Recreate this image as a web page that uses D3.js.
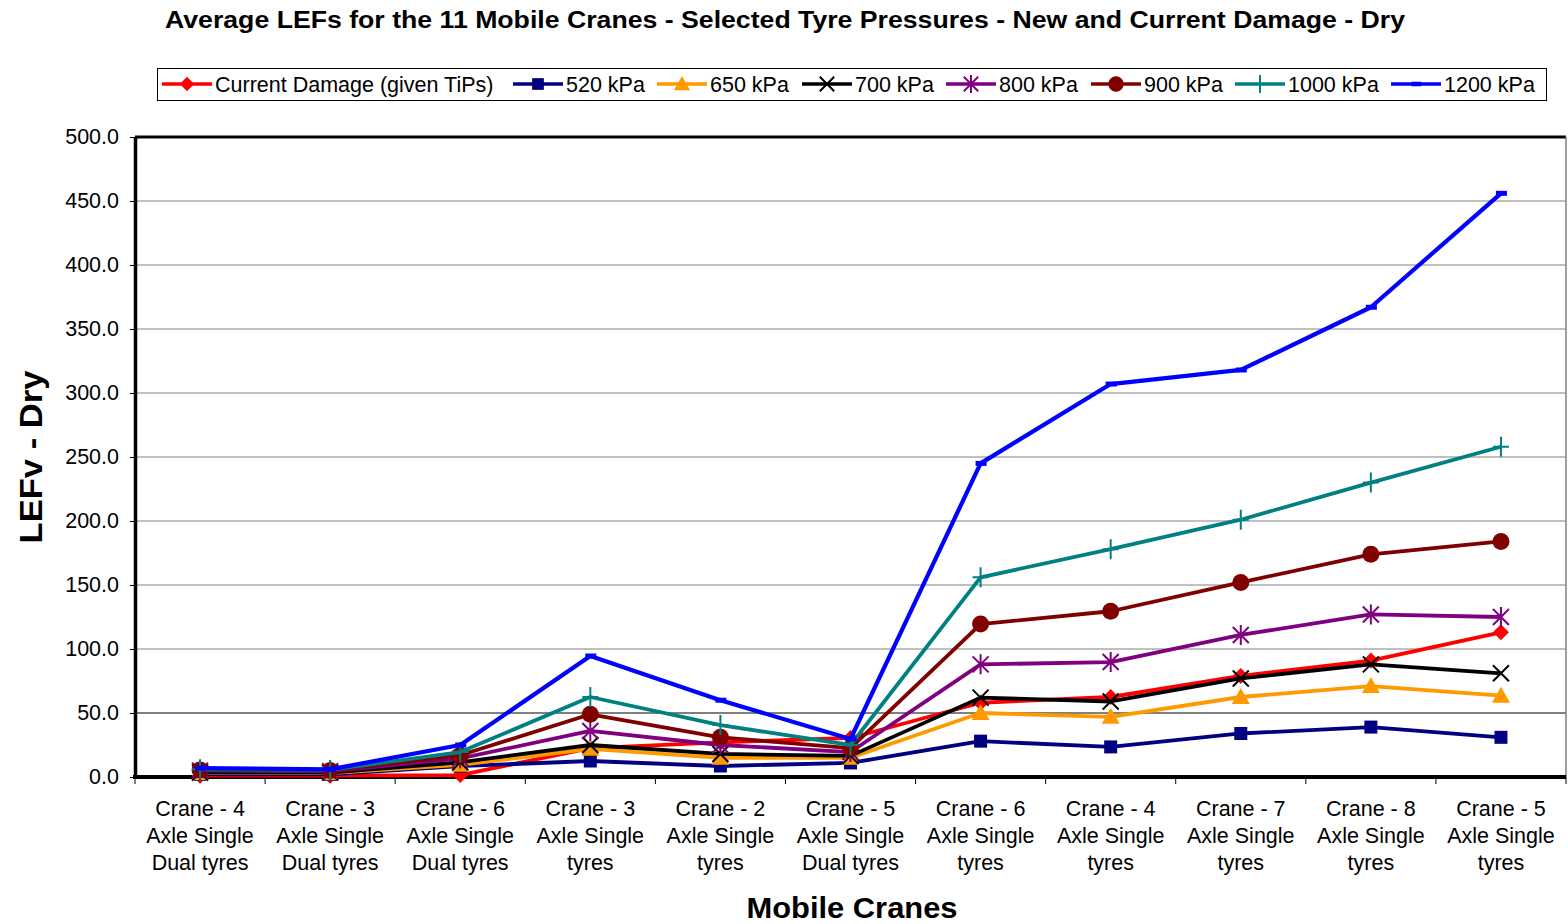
<!DOCTYPE html>
<html><head><meta charset="utf-8">
<script src="https://cdn.jsdelivr.net/npm/d3@7"></script>
<style>body{margin:0;background:#fff;font-family:"Liberation Sans",Arial,sans-serif;}</style>
</head><body><svg id="c" width="1568" height="924"></svg>
<script>
const categories = [
 ["Crane - 4","Axle Single","Dual tyres"],
 ["Crane - 3","Axle Single","Dual tyres"],
 ["Crane - 6","Axle Single","Dual tyres"],
 ["Crane - 3","Axle Single","tyres"],
 ["Crane - 2","Axle Single","tyres"],
 ["Crane - 5","Axle Single","Dual tyres"],
 ["Crane - 6","Axle Single","tyres"],
 ["Crane - 4","Axle Single","tyres"],
 ["Crane - 7","Axle Single","tyres"],
 ["Crane - 8","Axle Single","tyres"],
 ["Crane - 5","Axle Single","tyres"]
];
const seriesNames = ["Current Damage (given TiPs)","520 kPa","650 kPa","700 kPa","800 kPa","900 kPa","1000 kPa","1200 kPa"];
const currentDamage = [1.0,1.0,1.5,22.5,27,30.5,58,62.5,79,91,113];
const kPa520  = [2.0,2.0,8.5,12.5,8.6,11,28,23.5,34,39,31];
const kPa650  = [3.0,3.0,9.5,22,15,15,50,47,62.5,71,63.5];
const kPa700  = [3.5,3.5,11.5,25,18,16.5,62,59,77,88,81];
const kPa800  = [5.0,4.5,14.5,36,25,19.5,88,89.8,111,127,125];
const kPa900  = [5.5,5.0,17,49,31,22.5,119.5,129.5,152,174,184];
const kPa1000 = [6.0,5.5,19.5,62.5,40.6,25,156,178,201,230,258];
const kPa1200 = [7.0,6.0,25,94.5,60,29.7,245,307,318,367,456];
const yTicks = [0,50,100,150,200,250,300,350,400,450,500];
const colors = ["#ff0000","#000080","#ff9900","#000000","#800080","#800000","#008080","#0000ff"];
const markers = ["diamond","square","triangle","x","star","circle","plus","dash"];
const seriesData = [currentDamage,kPa520,kPa650,kPa700,kPa800,kPa900,kPa1000,kPa1200];

const svg = d3.select("#c");
const L=135, R=1566, T=137, B=777;
const x = d3.scaleBand().domain(d3.range(categories.length)).range([L,R]);
const y = d3.scaleLinear().domain([0,500]).range([B,T]);

// title
svg.append("text").attr("x",785).attr("y",28).attr("text-anchor","middle")
 .attr("font-weight","bold").attr("font-size","23px")
 .attr("textLength",1240).attr("lengthAdjust","spacingAndGlyphs")
 .text("Average LEFs for the 11 Mobile Cranes - Selected Tyre Pressures - New and Current Damage - Dry");

// gridlines
svg.append("g").selectAll("line").data(yTicks.filter(d=>d>0&&d<500)).join("line")
 .attr("x1",L).attr("x2",R).attr("y1",d=>y(d)).attr("y2",d=>y(d))
 .attr("stroke",d=>d===50?"#000":"#808080").attr("stroke-width",1);

// frame top & right
svg.append("line").attr("x1",L).attr("x2",R).attr("y1",T).attr("y2",T).attr("stroke","#000").attr("stroke-width",3);
svg.append("line").attr("x1",R).attr("x2",R).attr("y1",T).attr("y2",B).attr("stroke","#808080").attr("stroke-width",1.5);

// y axis
const ya = svg.append("g").attr("transform",`translate(${L},0)`)
 .call(d3.axisLeft(y).tickValues(yTicks).tickFormat(d3.format(".1f")).tickSize(5).tickSizeOuter(0));
ya.select(".domain").attr("stroke-width",3.5);
ya.selectAll(".tick line").attr("stroke","#000");
ya.selectAll("text").attr("font-size","21.5px").attr("fill","#000").attr("font-family","Liberation Sans, Arial, sans-serif").attr("dx","-8");

// x axis
const xa = svg.append("g").attr("transform",`translate(0,${B})`);
xa.append("line").attr("x1",L-2).attr("x2",R).attr("y1",0).attr("y2",0).attr("stroke","#000").attr("stroke-width",4);
xa.selectAll("line.t").data(d3.range(categories.length+1)).join("line").attr("class","t")
 .attr("x1",i=>L+i*x.bandwidth()).attr("x2",i=>L+i*x.bandwidth()).attr("y1",0).attr("y2",7).attr("stroke","#000").attr("stroke-width",1);
const lab = xa.selectAll("text").data(categories).join("text")
 .attr("text-anchor","middle").attr("font-size","21.5px").attr("fill","#000");
lab.each(function(d,i){
  const t=d3.select(this);
  d.forEach((s,j)=>t.append("tspan").attr("x",x(i)+x.bandwidth()/2).attr("y",39+j*27).text(s));
});

// axis titles
svg.append("text").attr("x",852).attr("y",918).attr("text-anchor","middle").attr("font-weight","bold").attr("font-size","29px")
 .attr("textLength",211).attr("lengthAdjust","spacingAndGlyphs").text("Mobile Cranes");
svg.append("text").attr("transform","translate(42,457) rotate(-90)").attr("text-anchor","middle").attr("font-weight","bold").attr("font-size","31px")
 .attr("textLength",173).attr("lengthAdjust","spacingAndGlyphs").text("LEFv - Dry");

// marker drawing
function drawMarker(g, type, color, cx, cy, scale){
  const s=scale||1;
  if(type==="diamond") g.append("path").attr("d",`M${cx},${cy-8*s}L${cx+8*s},${cy}L${cx},${cy+8*s}L${cx-8*s},${cy}Z`).attr("fill",color);
  else if(type==="square") g.append("rect").attr("x",cx-6.5*s).attr("y",cy-6.5*s).attr("width",13*s).attr("height",13*s).attr("fill",color);
  else if(type==="triangle") g.append("path").attr("d",`M${cx},${cy-9*s}L${cx+9*s},${cy+7*s}L${cx-9*s},${cy+7*s}Z`).attr("fill",color);
  else if(type==="x") g.append("path").attr("d",`M${cx-8*s},${cy-8*s}L${cx+8*s},${cy+8*s}M${cx-8*s},${cy+8*s}L${cx+8*s},${cy-8*s}`).attr("stroke",color).attr("stroke-width",2);
  else if(type==="star") g.append("path").attr("d",`M${cx-8*s},${cy-8*s}L${cx+8*s},${cy+8*s}M${cx-8*s},${cy+8*s}L${cx+8*s},${cy-8*s}M${cx},${cy-10*s}L${cx},${cy+10*s}`).attr("stroke",color).attr("stroke-width",2);
  else if(type==="circle") g.append("circle").attr("cx",cx).attr("cy",cy).attr("r",8.5*s).attr("fill",color);
  else if(type==="plus") g.append("path").attr("d",`M${cx-8*s},${cy}L${cx+8*s},${cy}M${cx},${cy-10*s}L${cx},${cy+10*s}`).attr("stroke",color).attr("stroke-width",2);
  else if(type==="dash") g.append("rect").attr("x",cx-5*s).attr("y",cy-2.5*s).attr("width",11*s).attr("height",5*s).attr("fill",color);
}

// series
const line = d3.line().x((d,i)=>x(i)+x.bandwidth()/2).y(d=>y(d));
const plot = svg.append("g");
seriesData.forEach((data,k)=>{
  const g = plot.append("g");
  g.append("path").attr("d",line(data)).attr("fill","none").attr("stroke",colors[k]).attr("stroke-width",k===7?4.2:3.8).attr("stroke-linejoin","round");
  data.forEach((v,i)=>drawMarker(g,markers[k],colors[k],x(i)+x.bandwidth()/2,y(v)));
});

// legend
const lg = svg.append("g");
lg.append("rect").attr("x",157.5).attr("y",68.5).attr("width",1389).attr("height",32).attr("fill","#fff").attr("stroke","#000").attr("stroke-width",1);
const legendX = [162,513,657,802,946,1091,1235,1391];
seriesNames.forEach((n,k)=>{
  const lx=legendX[k], ly=84;
  lg.append("line").attr("x1",lx).attr("x2",lx+50).attr("y1",ly).attr("y2",ly).attr("stroke",colors[k]).attr("stroke-width",3.5);
  drawMarker(lg,markers[k],colors[k],lx+25,ly,0.9);
  lg.append("text").attr("x",lx+53).attr("y",ly+7.5).attr("font-size","21.5px").attr("fill","#000").text(n);
});
</script></body></html>
